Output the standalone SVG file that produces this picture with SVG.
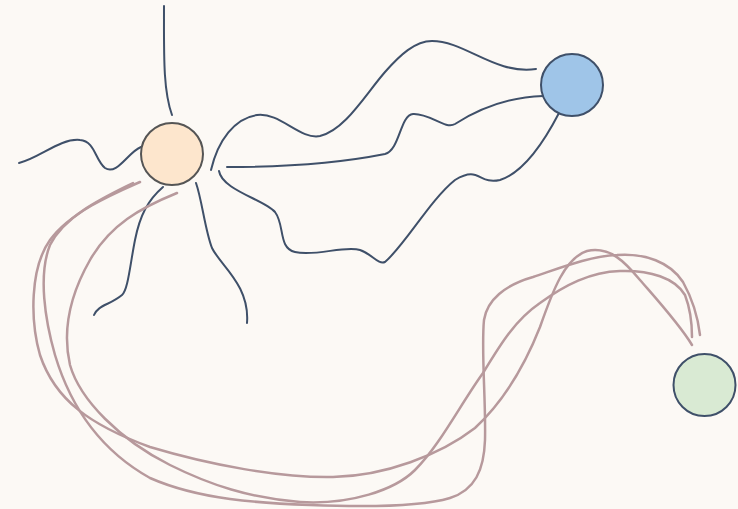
<svg xmlns="http://www.w3.org/2000/svg" width="738" height="509" viewBox="0 0 738 509">
  <style>
    .dark { fill: none; stroke: #3f5069; stroke-width: 2; stroke-linecap: round; }
    .pink { fill: none; stroke: #b7999c; stroke-width: 2.5; stroke-linecap: round; }
    .node { stroke-width: 2; }
  </style>
  <rect width="738" height="509" fill="#fcf9f5"/>

  <g id="connectors">
    <!-- loose strokes around the orange node -->
    <path class="dark" d="M164,6 C164,55 163,90 172,115"/>
    <path class="dark" d="M19,163 C40,158 60,138 80,140 C95,141 95,160 105,168 C117,176 128,152 141,147"/>
    <path class="dark" d="M163,187 C148,200 140,215 135,240 C130,265 128,290 122,295 C110,305 98,305 94,315"/>
    <path class="dark" d="M196,183 C202,200 205,230 212,248 C220,265 250,285 247,323"/>

    <!-- orange to blue -->
    <path class="dark" d="M211,170 C218,140 235,118 257,115 C280,112 300,140 320,136 C345,130 365,95 385,72 C400,55 415,41 432,41 C465,41 495,75 536,69"/>
    <path class="dark" d="M227,167 C280,167 340,163 385,154 C400,150 400,115 413,114 C430,113 445,130 455,124 C480,108 510,97 543,96"/>
    <path class="dark" d="M219,171 C222,190 265,200 275,212 C285,225 278,248 295,252 C315,257 345,245 360,250 C372,254 378,265 385,262 C405,245 430,200 455,180 C480,165 478,185 500,180 C525,172 545,140 559,113"/>

    <!-- orange to green -->
    <path class="pink" d="M140,182 C115,193 70,212 50,240 C30,268 30,320 40,355 C55,400 90,425 150,447 C210,465 280,478 333,477 C385,476 440,455 475,428 C505,400 525,365 540,327 C553,290 565,258 587,251 C610,246 625,262 640,280 C660,303 680,325 692,345"/>
    <path class="pink" d="M133,183 C105,197 65,215 50,245 C38,275 45,320 55,355 C70,405 100,450 150,478 C200,500 260,503 310,505 C360,507 420,507 450,498 C475,490 484,470 485,440 C486,400 481,350 484,320 C487,300 505,285 533,277 C560,268 590,256 617,255 C645,253 670,262 683,282 C693,300 698,318 700,335"/>
    <path class="pink" d="M177,193 C140,208 110,225 90,260 C70,295 62,330 70,365 C80,400 120,440 170,465 C210,485 250,498 300,502 C350,505 395,490 415,470 C440,445 460,405 483,373 C500,345 515,320 540,303 C565,285 590,272 620,271 C650,270 675,278 685,295 C690,308 692,325 692,337"/>
  </g>

  <g id="node-orange">
    <circle class="node" cx="172" cy="154" r="31" fill="#fde6cd" stroke="#555555"/>
  </g>
  <g id="node-blue">
    <circle class="node" cx="572" cy="85" r="31" fill="#9fc5e8" stroke="#3f5069"/>
  </g>
  <g id="node-green">
    <circle class="node" cx="704.5" cy="385" r="31" fill="#d9ead3" stroke="#3f5069"/>
  </g>
</svg>
